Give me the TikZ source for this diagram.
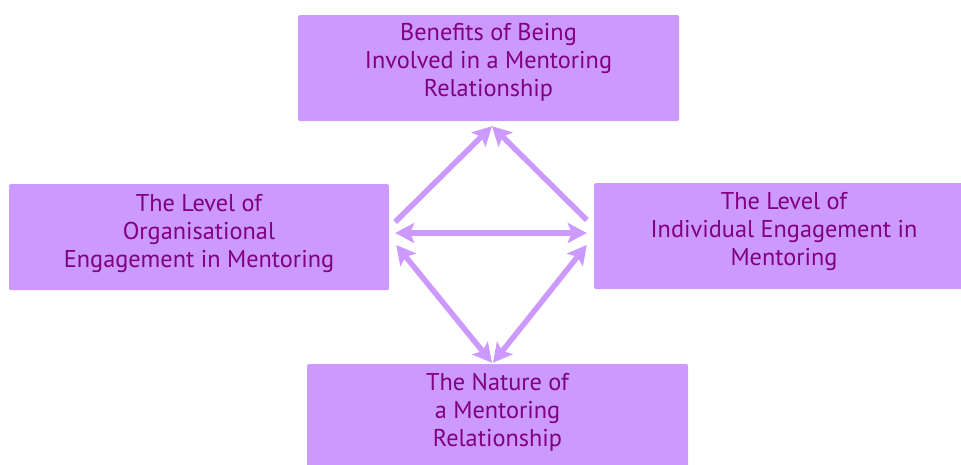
\documentclass[tikz,border=0pt]{standalone}
\usepackage{fontspec}
\setmainfont{PT Sans}
\usetikzlibrary{arrows.meta,calc}
\definecolor{lilac}{HTML}{CC99FF}
\definecolor{plum}{HTML}{800080}
\begin{document}
\begin{tikzpicture}[x=1pt,y=-1pt,
  box/.style={fill=lilac,draw=none,rounded corners=1.5pt,inner sep=0pt},
  label/.style={text=plum,align=center,font=\fontsize{24.3}{28}\selectfont,inner sep=0pt},
  link/.style={draw=lilac,line width=5.5pt,
    arrows={-Stealth[length=19pt,width=20pt,inset=4pt]}},
  both/.style={link,arrows={Stealth[length=19pt,width=20pt,inset=4pt]-Stealth[length=19pt,width=20pt,inset=4pt]}}]
\useasboundingbox (0,0) rectangle (961,464);
% boxes
\node[box,minimum width=381pt,minimum height=106pt] (top) at (488.5,68) {};
\node[box,minimum width=380pt,minimum height=106pt] (left) at (199,237) {};
\node[box,minimum width=375pt,minimum height=106pt] (right) at (781.5,236) {};
\node[box,minimum width=381pt,minimum height=106pt] (bottom) at (497.5,417) {};
% captions
\node[label] (topt) at (488.5,62.5) {Benefits of Being\\Involved in a Mentoring\\Relationship};
\node[label] (leftt) at (199,233) {The Level of\\Organisational\\Engagement in Mentoring};
\node[label] (rightt) at (784,231) {The Level of\\Individual Engagement in\\Mentoring};
\node[label] (bottomt) at (497.5,412.5) {The Nature of\\a Mentoring\\Relationship};
% arrow end points
\coordinate (tip) at ($(top.south)+(3.5,5)$);
\coordinate (lA) at ($(left.east)+(6,-15)$);
\coordinate (rA) at ($(right.west)+(-7,-16)$);
\coordinate (lB) at ($(left.east)+(6,-4)$);
\coordinate (rB) at ($(right.west)+(-7,-3)$);
\coordinate (lC) at ($(left.east)+(7,8)$);
\coordinate (rC) at ($(right.west)+(-7,9)$);
\coordinate (bL) at ($(bottom.north)+(-5.5,-1)$);
\coordinate (bR) at ($(bottom.north)+(-4.5,-1)$);
% connectors
\draw[link] (lA) -- (tip);
\draw[link] (rA) -- (tip);
\draw[both] (lB) -- (rB);
\draw[both] (lC) -- (bL);
\draw[both] (rC) -- (bR);
\end{tikzpicture}
\end{document}
